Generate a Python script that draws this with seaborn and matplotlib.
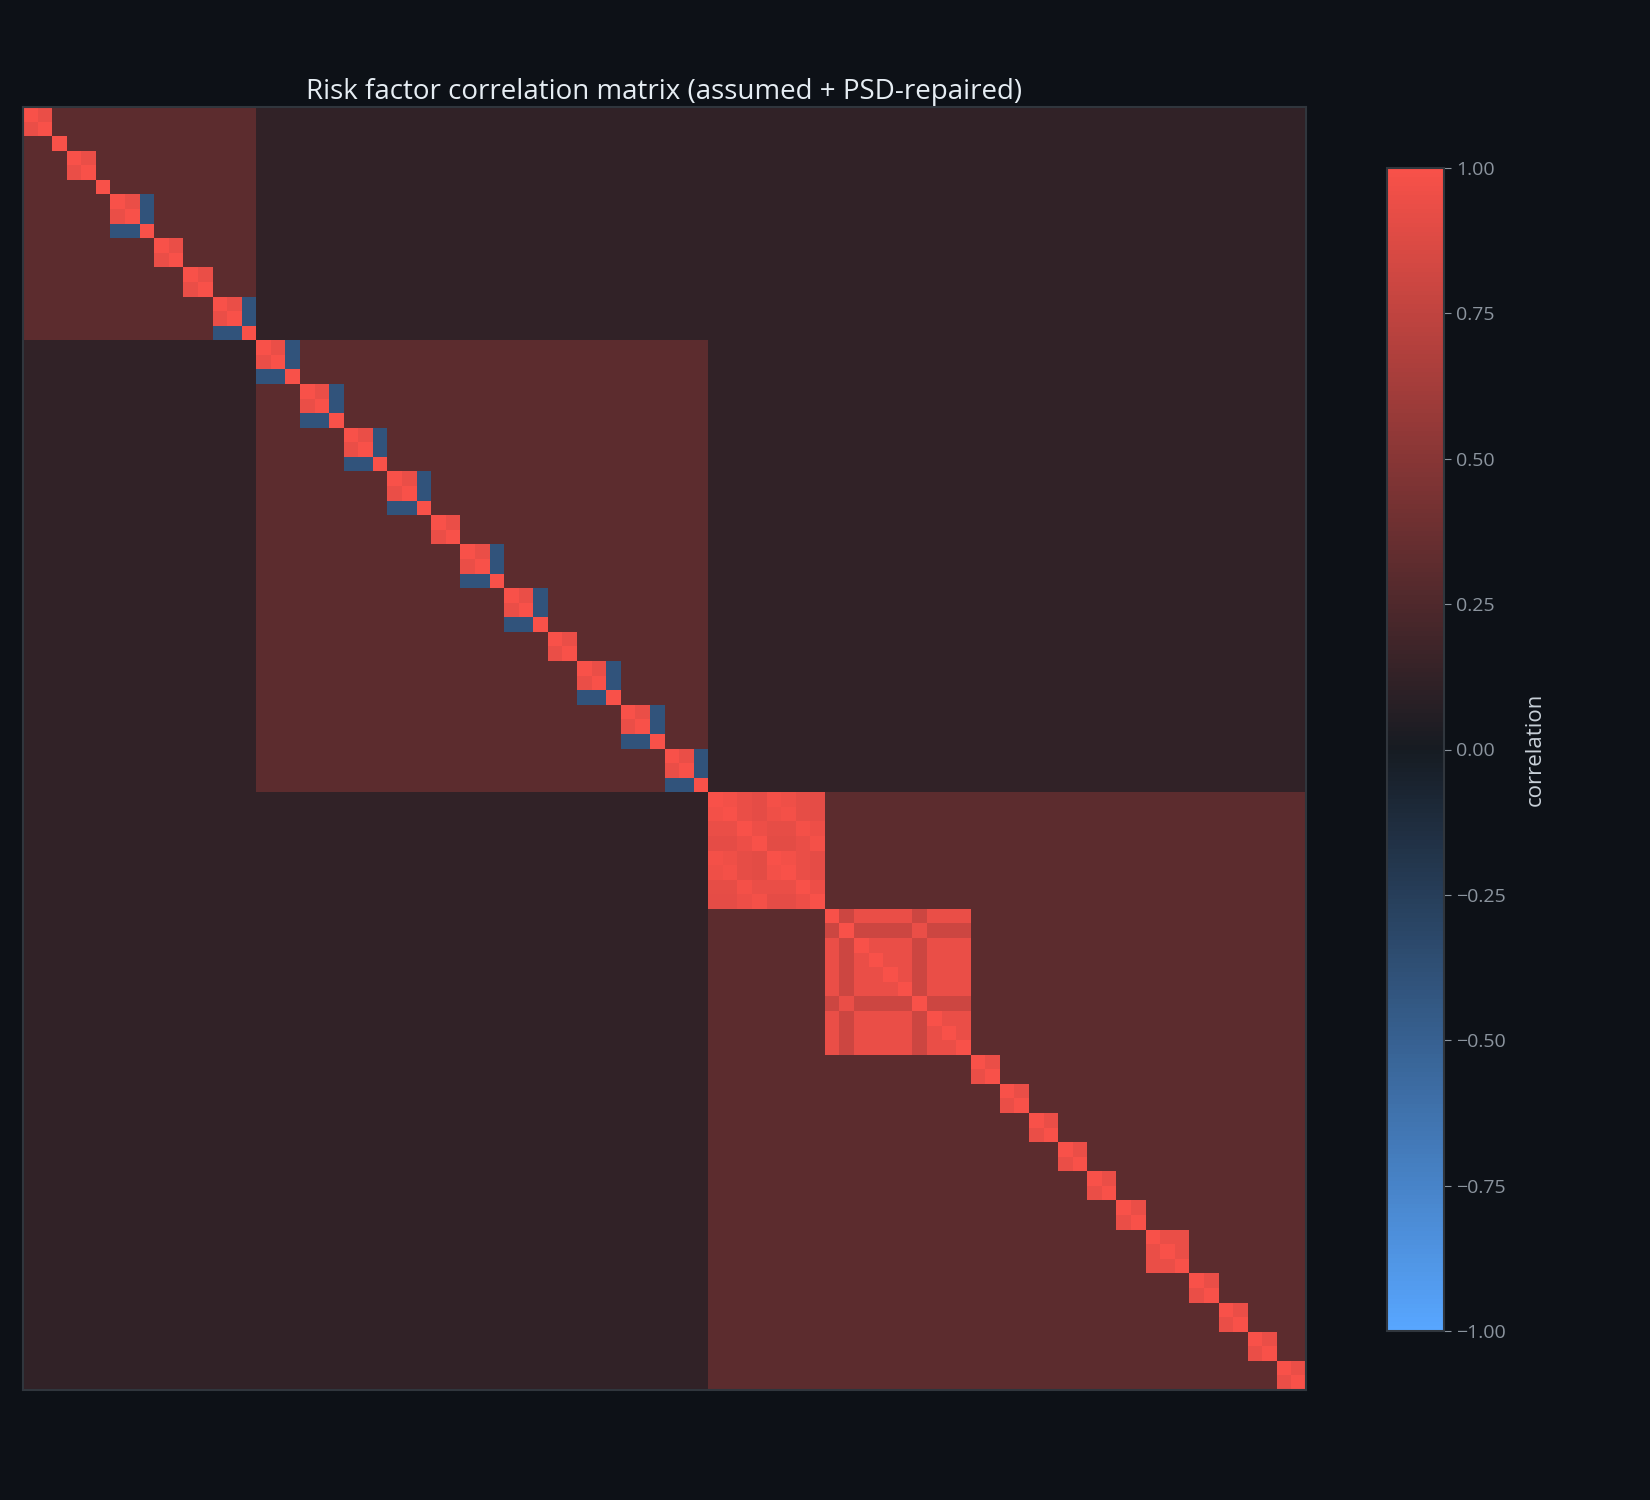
import numpy as np
import matplotlib
matplotlib.use("Agg")
import matplotlib.pyplot as plt
from matplotlib.colors import LinearSegmentedColormap
import seaborn as sns

# --- data: block structure of the assumed correlation matrix ---
group_sizes = [16, 31, 41]
group_blocks = [
    [2, 1, 2, 1, 3, 2, 2, 3],
    [3, 3, 3, 3, 2, 3, 3, 2, 3, 3, 3],
    [8, 10, 2, 2, 2, 2, 2, 2, 3, 2, 2, 2, 2],
]
rho_between_groups = 0.12
rho_within_group = [0.31, 0.31, 0.31]
rho_pair = 0.93        # 2-blocks and the first two of a 3-block
rho_hedge = -0.40      # third member of a 3-block in groups 1 and 2
rho_triple_g3 = 0.93   # the 3-block in group 3

block8 = [
    [1.00, 0.97, 0.93, 0.91, 0.98, 0.96, 0.92, 0.91],
    [0.97, 1.00, 0.93, 0.91, 0.96, 0.98, 0.92, 0.91],
    [0.93, 0.93, 1.00, 0.95, 0.92, 0.92, 0.98, 0.95],
    [0.91, 0.91, 0.95, 1.00, 0.90, 0.90, 0.93, 0.98],
    [0.98, 0.96, 0.92, 0.90, 1.00, 0.97, 0.93, 0.91],
    [0.96, 0.98, 0.92, 0.90, 0.97, 1.00, 0.93, 0.91],
    [0.92, 0.92, 0.98, 0.93, 0.93, 0.93, 1.00, 0.95],
    [0.91, 0.91, 0.95, 0.98, 0.91, 0.91, 0.95, 1.00],
]
odd_pair_10 = [1, 6]
rho10_same = 0.93
rho10_cross = 0.80

# --- build matrix ---
n = sum(group_sizes)
C = np.full((n, n), rho_between_groups)
start = 0
for g, (size, blocks) in enumerate(zip(group_sizes, group_blocks)):
    C[start:start + size, start:start + size] = rho_within_group[g]
    p = start
    for b in blocks:
        if b == 8:
            C[p:p + 8, p:p + 8] = np.array(block8)
        elif b == 10:
            sub = np.full((10, 10), rho10_same)
            for i in range(10):
                for j in range(10):
                    if (i in odd_pair_10) != (j in odd_pair_10):
                        sub[i, j] = rho10_cross
            C[p:p + 10, p:p + 10] = sub
        elif b == 3 and g < 2:
            C[p:p + 2, p:p + 2] = rho_pair
            C[p + 2, p:p + 2] = rho_hedge
            C[p:p + 2, p + 2] = rho_hedge
        else:
            C[p:p + b, p:p + b] = rho_pair if b == 2 else rho_triple_g3
        p += b
    start += size
np.fill_diagonal(C, 1.0)

# --- plot ---
bg = "#0d1117"
cmap = LinearSegmentedColormap.from_list("rb", ["#58a6ff", "#161b22", "#f85149"])

sns.set_style("dark")
plt.rcParams["font.family"] = ["Open Sans", "DejaVu Sans"]
fig = plt.figure(figsize=(16.5, 15), dpi=100, facecolor=bg)
ax = fig.add_axes([23 / 1650, 1 - 1390 / 1500, 1283 / 1650, 1283 / 1500])
cax = fig.add_axes([1387 / 1650, 1 - 1331 / 1500, 57 / 1650, 1163 / 1500])

sns.heatmap(C, ax=ax, cbar_ax=cax, cmap=cmap, vmin=-1, vmax=1,
            xticklabels=False, yticklabels=False, square=False)
ax.set_facecolor(bg)
for s in ax.spines.values():
    s.set_visible(True)
    s.set_color("#30363d")
    s.set_linewidth(1.5)
ax.set_title("Risk factor correlation matrix (assumed + PSD-repaired)",
             color="#e6edf3", fontsize=20, pad=6)

cb = ax.collections[0].colorbar
cb.set_ticks([-1, -0.75, -0.5, -0.25, 0, 0.25, 0.5, 0.75, 1])
cb.ax.set_yticklabels(["\u22121.00", "\u22120.75", "\u22120.50", "\u22120.25",
                       "0.00", "0.25", "0.50", "0.75", "1.00"])
cb.ax.tick_params(colors="#8b949e", labelsize=14, length=5)
cb.outline.set_visible(True)
cb.outline.set_edgecolor("#30363d")
cb.outline.set_linewidth(1.5)
cb.set_label("correlation", color="#c9d1d9", fontsize=16, labelpad=14)

fig.savefig("out.png", facecolor=bg)
